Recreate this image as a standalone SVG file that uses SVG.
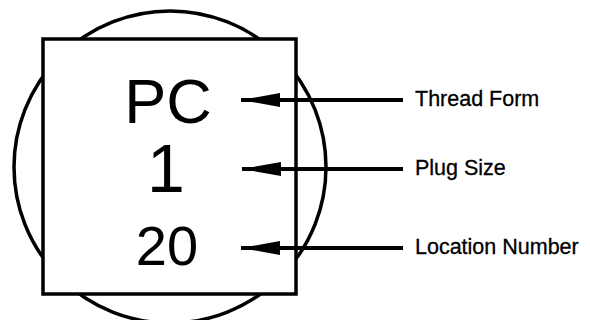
<svg xmlns="http://www.w3.org/2000/svg" width="590" height="320" viewBox="0 0 590 320">
<style>
.sh{fill:none;stroke:#000;stroke-width:3.5}
.big{font-family:"Liberation Sans",Arial,sans-serif;fill:#000;text-anchor:middle}
.lbl{font-family:"Liberation Sans",Arial,sans-serif;font-size:21.5px;fill:#000;stroke:#000;stroke-width:0.3}
.ln{stroke:#000;stroke-width:4;fill:none}
</style>
<defs>
<marker id="ah" markerUnits="userSpaceOnUse" markerWidth="40" markerHeight="14" refX="39" refY="7" orient="auto" viewBox="0 0 40 14">
<path d="M0,0 L39,7 L0,14 Z" fill="#000"/>
</marker>
</defs>
<rect width="590" height="320" fill="#fff"/>
<g id="plug">
<circle class="sh" cx="170" cy="167" r="156"/>
<rect x="43" y="39" width="253" height="255" fill="#fff" stroke="#000" stroke-width="3.5"/>
</g>
<g id="node-pc"><text class="big" x="168" y="123" font-size="63">PC</text></g>
<g id="node-1"><text class="big" x="166" y="192" font-size="68">1</text></g>
<g id="node-20"><text class="big" x="167" y="265" font-size="56">20</text></g>
<g id="connectors">
<line class="ln" x1="403" y1="100" x2="241" y2="100" marker-end="url(#ah)"/>
<line class="ln" x1="403" y1="169" x2="242" y2="169" marker-end="url(#ah)"/>
<line class="ln" x1="403" y1="248" x2="241" y2="248" marker-end="url(#ah)"/>
</g>
<g id="label-thread"><text class="lbl" x="415" y="106">Thread Form</text></g>
<g id="label-plug"><text class="lbl" x="415" y="175">Plug Size</text></g>
<g id="label-loc"><text class="lbl" x="415" y="254">Location Number</text></g>
</svg>
